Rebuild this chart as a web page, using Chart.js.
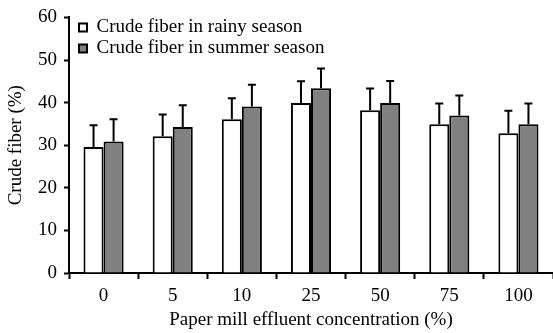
<!DOCTYPE html>
<html>
<head>
<meta charset="utf-8">
<script src="https://cdn.jsdelivr.net/npm/chart.js@4.4.0/dist/chart.umd.min.js"></script>
<style>
  html, body { margin: 0; padding: 0; background: #fff; }
  #wrap { width: 553px; height: 333px; position: relative; }
</style>
</head>
<body>
<div id="wrap"><canvas id="fiberChart"></canvas></div>
<script>
// Crude fiber by effluent concentration, two seasons, with SD bars
const concentrations = ['0', '5', '10', '25', '50', '75', '100'];
const rainyFiber  = [29.6, 32.1, 36.1, 39.9, 38.2, 34.9, 32.8];
const rainySd     = [5.1, 5.1, 4.9, 5.1, 5.1, 4.9, 5.3];
const summerFiber = [30.9, 34.3, 39.1, 43.4, 39.9, 37.0, 34.9];
const summerSd    = [5.2, 5.1, 5.1, 4.6, 5.2, 4.7, 4.9];
const yTicks = [0, 10, 20, 30, 40, 50, 60];

const serif = "'Liberation Serif', 'Times New Roman', serif";
const textFont = { family: serif, size: 19 };

// upward-only error bars with a short cap
const errorBars = {
  id: 'errorBars',
  afterDatasetsDraw(chart) {
    const ctx = chart.ctx;
    const y = chart.scales.y;
    const sds = [rainySd, summerSd];
    ctx.save();
    ctx.strokeStyle = '#000';
    ctx.lineWidth = 2;
    chart.data.datasets.forEach((ds, i) => {
      chart.getDatasetMeta(i).data.forEach((bar, j) => {
        const top = y.getPixelForValue(ds.data[j] + sds[i][j]);
        ctx.beginPath();
        ctx.moveTo(bar.x, bar.y);
        ctx.lineTo(bar.x, top);
        ctx.moveTo(bar.x - 4, top);
        ctx.lineTo(bar.x + 4, top);
        ctx.stroke();
      });
    });
    ctx.restore();
  }
};

// nudge the in-plot legend right and down
const legendNudge = {
  id: 'legendNudge',
  afterLayout(chart) {
    if (chart.legend) {
      chart.legend.left += 8;
      chart.legend.top += chart.chartArea.top < 16 ? 17 : 16;
    }
  }
};

new Chart(document.getElementById('fiberChart'), {
  type: 'bar',
  data: {
    labels: concentrations,
    datasets: [
      { label: 'Crude fiber in rainy season', data: rainyFiber, backgroundColor: '#ffffff', borderColor: '#000', borderWidth: 2 },
      { label: 'Crude fiber in summer season', data: summerFiber, backgroundColor: '#808080', borderColor: '#000', borderWidth: 2 }
    ]
  },
  options: {
    responsive: true,
    maintainAspectRatio: false,
    animation: false,
    layout: { padding: { top: 10, right: 0, left: 0, bottom: 0 } },
    datasets: { bar: { categoryPercentage: 0.58, barPercentage: 1.0 } },
    plugins: {
      tooltip: { enabled: false },
      legend: {
        position: 'chartArea',
        align: 'start',
        labels: {
          color: '#000',
          font: { family: serif, size: 19, lineHeight: 1.0 },
          boxWidth: 8,
          boxHeight: 8,
          padding: 2
        }
      }
    },
    scales: {
      x: {
        afterFit(s) { s.height = 60; },
        border: { color: '#000', width: 2 },
        grid: { display: true, drawOnChartArea: false, offset: true, tickLength: 6, tickColor: '#000', tickWidth: 2 },
        ticks: { color: '#000', font: textFont, padding: 6 },
        title: { display: true, text: 'Paper mill effluent concentration (%)', color: '#000', font: textFont, padding: { top: 0, bottom: 2 } }
      },
      y: {
        min: 0,
        max: 60,
        afterFit(s) { s.width = 69; },
        afterBuildTicks(s) { s.ticks = yTicks.map(v => ({ value: v })); },
        border: { color: '#000', width: 2 },
        grid: { display: true, drawOnChartArea: false, tickLength: 5, tickColor: '#000', tickWidth: 2 },
        ticks: { color: '#000', font: { family: serif, size: 19, lineHeight: 1.1 }, padding: 7 },
        title: { display: true, text: 'Crude fiber (%)', color: '#000', font: textFont, padding: { top: 5, bottom: 0 } }
      }
    }
  },
  plugins: [errorBars, legendNudge]
});
</script>
</body>
</html>
